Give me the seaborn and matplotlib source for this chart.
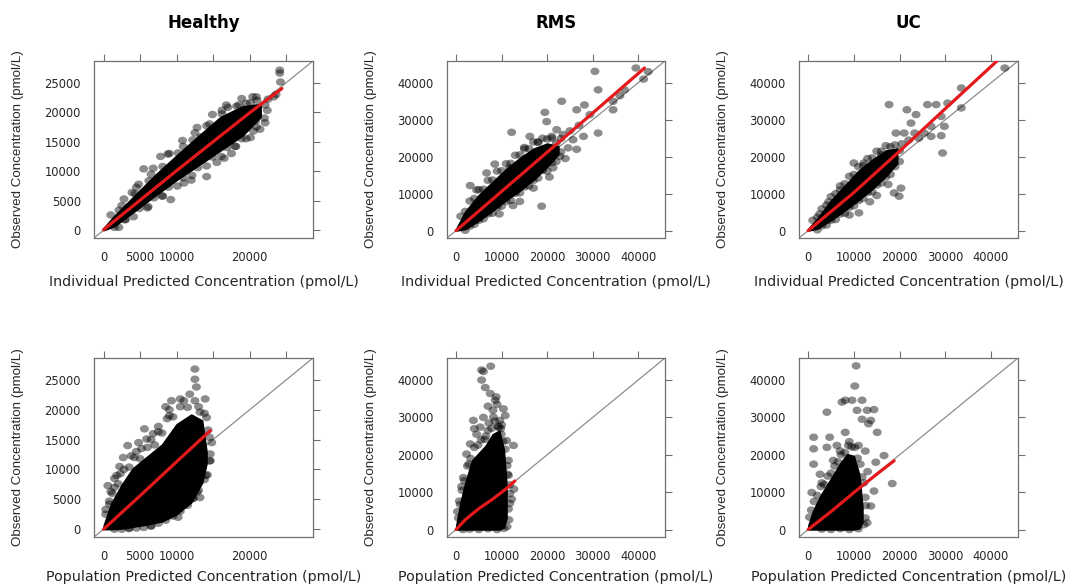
import numpy as np
import pandas as pd
import matplotlib
matplotlib.use("Agg")
import matplotlib.pyplot as plt
from matplotlib.path import Path
import seaborn as sns

# ---------------- data (values in thousands of pmol/L) ----------------
groups = ["Healthy", "RMS", "UC"]
x_labels = ["Individual Predicted Concentration (pmol/L)",
            "Population Predicted Concentration (pmol/L)"]
y_label = "Observed Concentration (pmol/L)"

healthy_ticks = [0, 5000, 10000, 15000, 20000, 25000]
healthy_xtick_labels = ["0", "5000", "10000", "", "20000", ""]
healthy_ytick_labels = ["0", "5000", "10000", "15000", "20000", "25000"]
wide_ticks = [0, 10000, 20000, 30000, 40000]
wide_tick_labels = ["0", "10000", "20000", "30000", "40000"]

# dense (solid black) part of each cloud: x, lower y, upper y
core_h_ipred_x = [0, 1.5, 4, 7, 10, 13, 16, 19, 21.5]
core_h_ipred_lo = [0, 0.7, 3.0, 5.8, 8.5, 11.0, 13.5, 16.0, 19.2]
core_h_ipred_hi = [0.4, 2.5, 5.6, 9.3, 12.7, 16.0, 19.2, 21.0, 21.4]

core_r_ipred_x = [0, 2, 5, 8, 11, 14, 17, 20, 22.5]
core_r_ipred_lo = [0, 0.4, 2.7, 5.3, 8.2, 10.8, 13.7, 17.2, 20.7]
core_r_ipred_hi = [0.5, 5.2, 9.7, 13.2, 16.7, 19.7, 22.2, 23.6, 22.8]

core_u_ipred_x = [0, 2, 5, 8, 11, 14, 17, 19.5]
core_u_ipred_lo = [0, 0.5, 2.8, 5.4, 8.2, 11.2, 14.7, 18.2]
core_u_ipred_hi = [0.5, 3.3, 8.2, 12.2, 16.2, 19.2, 21.7, 22.2]

core_h_pred_x = [0, 1, 2.5, 4, 6, 8, 10, 12, 13.5, 14.1]
core_h_pred_lo = [0, 0, 0.1, 0.4, 0.8, 1.3, 2.5, 4.5, 7.8, 11.0]
core_h_pred_hi = [0.6, 4.2, 7.5, 10.2, 12.2, 14.2, 17.6, 19.2, 18.2, 13.0]

core_r_pred_x = [0, 1, 2, 3.5, 5, 6.5, 8, 9.5, 10.5, 11.1]
core_r_pred_lo = [0, 0, 0, 0, 0, 0, 0, 0, 0.5, 3.0]
core_r_pred_hi = [1, 7.5, 12.5, 18.5, 20.5, 22.5, 25.5, 26.5, 21.5, 12]

core_u_pred_x = [0, 1, 2.5, 4, 5.5, 7, 8.5, 10, 11.2, 11.9]
core_u_pred_lo = [0, 0, 0, 0, 0, 0, 0, 0, 0.3, 2.0]
core_u_pred_hi = [1, 4.8, 8.7, 11.7, 14.7, 17.7, 20.2, 19.7, 14.7, 6]

# individual outlying observations
h_ipred_x = [24.1, 24.1, 24.2, 23.3, 23.6, 22.5, 20.4, 21.0, 21.0, 21.4, 20.8, 19.5, 18.5, 16.2,
             17.0, 13.3, 14.1, 10.9, 7.8, 5.5, 3.9, 9.2, 12.0, 15.5, 18.0, 19.5, 20.5, 22.0,
             12.5, 9.0, 6.5, 4.5, 2.5, 1.5, 3.0, 6.0, 8.0, 11.0, 14.5, 17.5, 16.5]
h_ipred_y = [27.1, 26.6, 25.1, 22.6, 23.0, 22.2, 22.6, 22.0, 19.5, 17.1, 18.5, 21.5, 21.2, 20.3,
             20.8, 15.8, 9.1, 14.2, 12.5, 10.4, 6.4, 5.2, 8.5, 11.5, 14.2, 15.5, 16.8, 19.0,
             16.5, 13.0, 9.5, 7.3, 4.2, 0.5, 1.8, 3.8, 5.8, 8.0, 18.0, 13.0, 12.2]
# observations along the fuzzy edge of the dense cloud
h_ipred_edge_x = [1.0, 2.1, 2.8, 4.3, 4.8, 6.2, 6.8, 8.1, 8.8, 10.2, 10.8, 12.2, 12.8, 14.1, 14.9,
                  16.2, 16.8, 18.2, 18.9, 20.1, 20.9, 22.1,
                  2.1, 2.9, 4.1, 4.9, 6.1, 6.9, 8.1, 8.9, 10.1, 10.9, 12.1, 12.9, 14.1, 14.9,
                  16.1, 16.9, 18.1, 18.9, 20.1, 20.9, 22.1, 22.4]
h_ipred_edge_y = [2.6, 3.4, 5.3, 6.2, 7.8, 8.4, 10.5, 10.8, 12.9, 13.1, 15.2, 15.3, 17.4, 17.7,
                  19.6, 19.7, 21.2, 21.0, 22.3, 21.6, 22.6, 21.2,
                  0.5, 1.8, 2.3, 3.7, 4.0, 5.5, 5.8, 7.3, 7.5, 8.9, 9.3, 10.6, 10.9, 12.4, 12.5,
                  14.0, 14.2, 15.5, 15.7, 17.5, 18.2, 20.3]

r_ipred_x = [30.5, 39.5, 31.2, 23.2, 26.5, 29.4, 28.2, 19.5, 34.5, 34.5, 31.2, 12.2, 16.2, 3.1,
             6.7, 18.8, 17.0, 11.8, 21.3, 24.6, 22.8, 25.7, 19.9, 22.1, 14.0, 5.3, 27.0, 25.0,
             23.5, 21.0, 18.0, 15.0, 8.5, 4.5, 9.5, 12.5, 20.5, 24.0, 26.5, 28.0, 36.0, 37.0,
             42.2, 41.2]
r_ipred_y = [43.1, 44.0, 38.1, 35.0, 32.7, 31.4, 34.0, 32.0, 35.0, 32.7, 26.4, 26.6, 25.5, 12.2,
             15.6, 6.6, 11.5, 17.0, 17.0, 22.4, 20.1, 24.6, 29.5, 27.3, 7.9, 7.5, 28.5, 27.0,
             26.0, 25.0, 24.0, 22.5, 18.0, 11.0, 4.5, 6.8, 14.5, 19.5, 22.0, 25.5, 36.5, 38.1,
             43.0, 41.0]
r_ipred_edge_x = [1, 2, 3, 4, 5, 6, 7, 8, 9, 10, 11, 12, 13, 14, 15, 16, 17, 18, 19, 20, 21, 22, 23,
                  2, 3, 4, 5, 6, 7, 8, 9, 10, 11, 12, 13, 14, 15, 16, 17, 18, 19, 20, 21, 22, 23]
r_ipred_edge_y = [3.9, 5.2, 8.0, 8.7, 11.1, 11.2, 13.6, 13.7, 16.1, 16.2, 18.1, 18.2, 20.4, 20.5,
                  22.1, 22.2, 24.0, 23.9, 25.0, 24.8, 25.5, 23.7, 24.9,
                  0.1, 1.2, 1.7, 2.8, 3.2, 4.5, 4.7, 6.3, 6.6, 7.9, 8.2, 10.1, 10.2, 11.8, 12.1,
                  13.6, 14.2, 16.3, 16.1, 18.4, 18.7, 21.3]

u_ipred_x = [17.7, 21.6, 23.6, 26.1, 28.0, 30.5, 33.5, 33.5, 29.1, 29.8, 26.9, 26.9, 29.1, 29.4,
             25.4, 22.5, 21.0, 19.2, 23.3, 43.0, 18.8, 20.3, 19.9, 10.0, 12.2, 11.1, 18.1, 20.5,
             22.0, 24.2, 7.0, 4.5, 2.5, 9.0, 13.5, 16.0, 15.0, 17.5]
u_ipred_y = [34.1, 32.7, 31.4, 34.1, 34.1, 34.5, 38.6, 33.2, 30.9, 28.2, 28.2, 25.5, 25.7, 21.0,
             26.4, 29.1, 26.4, 26.4, 26.4, 44.0, 10.2, 11.5, 9.3, 18.3, 18.3, 4.8, 21.0, 23.5,
             24.5, 25.0, 11.0, 7.8, 4.5, 4.2, 7.8, 20.5, 9.5, 12.5]
u_ipred_edge_x = [1, 2, 3, 4, 5, 6, 7, 8, 9, 10, 11, 12, 13, 14, 15, 16, 17, 18, 19, 20,
                  2, 3, 4, 5, 6, 7, 8, 9, 10, 11, 12, 13, 14, 15, 16, 17, 18, 19, 20]
u_ipred_edge_y = [2.8, 3.6, 5.9, 6.9, 9.2, 10.0, 12.1, 12.7, 14.7, 15.2, 17.3, 17.6, 19.5, 19.7,
                  21.5, 21.5, 23.0, 22.7, 23.2, 21.7,
                  0.2, 1.3, 1.5, 2.8, 3.0, 4.5, 4.7, 6.3, 6.7, 8.1, 8.7, 10.3, 10.5, 12.3, 12.9,
                  14.5, 15.2, 17.3, 18.7]

h_pred_x = [0.8, 0.6, 2.7, 3.3, 5.9, 5.6, 9.3, 12.5, 12.5, 12.7, 13.9, 14.1, 14.6, 13.2, 12.2,
            11.4, 7.7, 8.5, 10.5, 11.8, 7.5, 4.5, 1.8, 1.2, 0.3, 14.8, 14.0, 12.8, 10.2, 6.5,
            3.5, 13.0, 9.0, 6.8, 2.2, 1.0, 2.3, 3.8, 5.2, 6.5, 9.0, 11.0, 1.5, 4.8]
h_pred_y = [4.2, 7.3, 12.0, 14.0, 15.1, 16.8, 21.5, 26.8, 25.1, 23.8, 21.8, 18.7, 11.5, 5.3, 5.1,
            4.5, 1.9, 20.5, 21.8, 22.6, 17.2, 13.0, 9.0, 6.0, 2.5, 14.5, 9.0, 6.2, 2.0, 0.5,
            0.2, 20.5, 19.0, 16.0, 10.5, 6.3, 9.3, 12.3, 13.5, 15.0, 20.0, 21.5, 8.5, 14.5]
h_pred_edge_x = [0.3, 0.8, 1.5, 2, 2.8, 3.5, 4.2, 5, 6, 7, 7.5, 8, 8.7, 9.5, 10.5, 11.5, 12.5,
                 13.2, 13.8, 14.3, 14.5, 14.6, 14.5, 14.2, 13.8,
                 13.0, 12.3, 11.5, 10.5, 9.5, 8.5, 7.5, 6.5, 5.5, 4.5, 3.5, 2.5, 1.5]
h_pred_edge_y = [3.3, 4.7, 7.0, 7.6, 10.0, 10.4, 12.0, 11.8, 13.7, 14.1, 16.3, 16.1, 18.5, 18.8,
                 20.5, 20.4, 21.5, 19.6, 19.4, 16.6, 15.4, 12.6, 11.4, 9.1, 8.3,
                 6.5, 5.2, 4.0, 3.0, 2.2, 1.5, 1.0, 0.6, 0.3, 0.2, 0.1, 0.0, 0.0]

r_pred_x = [5.6, 6.0, 7.6, 5.6, 6.4, 7.5, 8.6, 8.1, 10.4, 3.8, 3.1, 2.3, 12.6, 12.7, 12.2, 1.6,
            0.9, 0.5, 9.6, 9.4, 5.3, 11.1, 11.3, 8.2, 9.0, 8.8, 7.0, 6.0, 4.5, 4.0, 7.2, 10.0,
            9.9, 11.5, 11.8, 11.5, 2.8, 1.3, 10.8, 6.5]
r_pred_y = [42.7, 42.3, 43.7, 40.0, 38.0, 36.4, 34.6, 31.9, 32.3, 29.2, 22.9, 20.2, 22.5, 10.8,
            8.1, 13.9, 6.7, 3.1, 29.2, 27.4, 27.4, 23.8, 14.8, 30.1, 33.5, 35.5, 33.0, 30.0,
            25.5, 27.0, 28.5, 28.0, 25.5, 18.5, 12.0, 5.5, 17.5, 10.5, 30.5, 25.0]
r_pred_edge_x = [0.3, 0.7, 1.2, 1.8, 2.5, 3.2, 4.0, 4.8, 5.5, 6.3, 7.0, 7.8, 8.5, 9.2, 9.8, 10.3,
                 10.8, 11.2, 11.5, 11.8, 11.8, 11.6, 11.2, 10.5, 9, 7, 5, 3, 1.5]
r_pred_edge_y = [4.8, 7.6, 11.5, 13.1, 17.0, 19.0, 22.0, 22.6, 24.0, 24.1, 26.5, 27.1, 29.0, 27.6,
                 27.0, 23.6, 21.5, 17.1, 14.5, 9.6, 7.0, 2.6, 0.8, 0.3, 0.0, 0.2, 0.0, 0.1, 0.0]

u_pred_x = [10.5, 10.2, 7.4, 8.1, 9.6, 10.7, 11.8, 4.1, 12.9, 14.4, 13.7, 11.8, 13.2, 15.1, 8.1,
            1.2, 4.7, 1.2, 4.1, 6.3, 1.2, 0.8, 16.6, 14.8, 18.4, 14.4, 13.7, 12.9, 2.6, 9.0,
            11.0, 12.5, 7.0, 5.5, 3.0, 13.0]
u_pred_y = [43.8, 38.4, 34.1, 34.6, 34.6, 31.9, 34.6, 31.4, 31.9, 32.1, 29.2, 29.5, 28.3, 26.0,
            26.0, 24.7, 24.7, 21.6, 22.0, 22.5, 17.5, 9.9, 19.8, 18.0, 12.3, 10.3, 6.3, 1.8,
            14.8, 23.5, 22.5, 21.0, 21.0, 18.5, 12.5, 15.5]
u_pred_edge_x = [0.3, 0.7, 1.3, 2.0, 2.8, 3.5, 4.3, 5.0, 5.8, 6.5, 7.2, 8.0, 8.8, 9.5, 10.2, 10.8,
                 11.4, 11.8, 12.2, 12.5, 12.6, 12.5, 12.2, 11, 9, 7, 5, 3]
u_pred_edge_y = [3.3, 5.2, 7.5, 9.1, 11.5, 12.1, 14.3, 15.1, 17.0, 18.1, 20.0, 20.6, 22.5, 22.1,
                 22.0, 19.1, 17.5, 14.1, 12.5, 8.6, 6.4, 3.1, 1.3, 0.2, 0.0, 0.2, 0.0, 0.1]

# loess smooths (red)
loess_h_ipred_x = [0, 5, 10, 15, 20, 24.4]
loess_h_ipred_y = [0.1, 5.1, 10.1, 15.0, 19.9, 24.0]
loess_r_ipred_x = [0, 10, 20, 30, 41.4]
loess_r_ipred_y = [0, 10.6, 21.2, 31.8, 44.0]
loess_u_ipred_x = [0, 10, 20, 30, 41.3]
loess_u_ipred_y = [0, 10.3, 21.5, 33.0, 45.9]
loess_h_pred_x = [0, 5, 10, 14.6]
loess_h_pred_y = [0, 5.6, 11.3, 16.5]
loess_r_pred_x = [0, 2, 5, 8, 11, 12.9]
loess_r_pred_y = [0, 2.6, 5.6, 8.1, 10.9, 13.0]
loess_u_pred_x = [0, 5, 10, 15, 18.8]
loess_u_pred_y = [0, 4.8, 9.9, 14.8, 18.4]

# ---------------- build panel table ----------------
panels = [
    dict(row=0, col=0, core=(core_h_ipred_x, core_h_ipred_lo, core_h_ipred_hi),
         pts=(h_ipred_x + h_ipred_edge_x, h_ipred_y + h_ipred_edge_y),
         smooth=(loess_h_ipred_x, loess_h_ipred_y)),
    dict(row=0, col=1, core=(core_r_ipred_x, core_r_ipred_lo, core_r_ipred_hi),
         pts=(r_ipred_x + r_ipred_edge_x, r_ipred_y + r_ipred_edge_y),
         smooth=(loess_r_ipred_x, loess_r_ipred_y)),
    dict(row=0, col=2, core=(core_u_ipred_x, core_u_ipred_lo, core_u_ipred_hi),
         pts=(u_ipred_x + u_ipred_edge_x, u_ipred_y + u_ipred_edge_y),
         smooth=(loess_u_ipred_x, loess_u_ipred_y)),
    dict(row=1, col=0, core=(core_h_pred_x, core_h_pred_lo, core_h_pred_hi),
         pts=(h_pred_x + h_pred_edge_x, h_pred_y + h_pred_edge_y),
         smooth=(loess_h_pred_x, loess_h_pred_y)),
    dict(row=1, col=1, core=(core_r_pred_x, core_r_pred_lo, core_r_pred_hi),
         pts=(r_pred_x + r_pred_edge_x, r_pred_y + r_pred_edge_y),
         smooth=(loess_r_pred_x, loess_r_pred_y)),
    dict(row=1, col=2, core=(core_u_pred_x, core_u_pred_lo, core_u_pred_hi),
         pts=(u_pred_x + u_pred_edge_x, u_pred_y + u_pred_edge_y),
         smooth=(loess_u_pred_x, loess_u_pred_y)),
]

# ---------------- style ----------------
sns.set_style("white")
plt.rcParams['font.family'] = ['DejaVu Sans']

W, H = 1074, 587
fig = plt.figure(figsize=(W / 100, H / 100), dpi=100)
fig.patch.set_facecolor("white")

col_px = [(94, 313), (447, 665), (799, 1018)]
row_px = [(61, 238), (358, 537)]
lims = [(-1300, 28650), (-2000, 45900), (-2000, 45900)]

EDGE = "#707070"
TXT = "#262626"

theta = np.linspace(0, 2 * np.pi, 40)
ell = Path(np.column_stack([1.2 * np.cos(theta), np.sin(theta)]), closed=True)

for p in panels:
    r, c = p["row"], p["col"]
    x0, x1 = col_px[c]
    y0, y1 = row_px[r]
    ax = fig.add_axes([x0 / W, 1 - y1 / H, (x1 - x0) / W, (y1 - y0) / H])
    lo_lim, hi_lim = lims[c]

    ax.axline((0, 0), slope=1, color="#8c8c8c", lw=0.9, zorder=1)

    cx, clo, chi = (np.asarray(v) * 1000 for v in p["core"])
    ax.fill_between(cx, clo, chi, color="black", lw=1.0, edgecolor="black", zorder=2)

    df = pd.DataFrame({"x": np.asarray(p["pts"][0]) * 1000,
                       "y": np.asarray(p["pts"][1]) * 1000})
    sns.scatterplot(data=df, x="x", y="y", ax=ax, color="black", alpha=0.45,
                    s=42, marker=ell, edgecolor="none", linewidth=0, zorder=3)

    sm = pd.DataFrame({"x": np.asarray(p["smooth"][0]) * 1000,
                       "y": np.asarray(p["smooth"][1]) * 1000})
    sns.lineplot(data=sm, x="x", y="y", ax=ax, color="#e3191c", lw=2.3,
                 sort=False, estimator=None, zorder=4)

    ax.set_xlim(lo_lim, hi_lim)
    ax.set_ylim(lo_lim, hi_lim)
    if c == 0:
        ax.set_xticks(healthy_ticks)
        ax.set_xticklabels(healthy_xtick_labels)
        ax.set_yticks(healthy_ticks)
        ax.set_yticklabels(healthy_ytick_labels)
    else:
        ax.set_xticks(wide_ticks)
        ax.set_xticklabels(wide_tick_labels)
        ax.set_yticks(wide_ticks)
        ax.set_yticklabels(wide_tick_labels)
    ax.set_xlabel("")
    ax.set_ylabel("")
    ax.tick_params(direction="out", length=5, width=0.8, color=EDGE,
                   top=True, right=True, labeltop=False, labelright=False,
                   labelsize=8.3, labelcolor=TXT, pad=4.5)
    for s in ax.spines.values():
        s.set_visible(True)
        s.set_color(EDGE)
        s.set_linewidth(0.9)

    xc = (x0 + x1) / 2 / W
    lab_y = (282 if r == 0 else 577)
    fig.text(xc, 1 - lab_y / H, x_labels[r], ha="center", va="center",
             fontsize=10.3, color=TXT)
    fig.text((x0 - 76) / W, 1 - ((y0 + y1) / 2) / H, y_label, rotation=90,
             ha="center", va="center", fontsize=9.6, color=TXT,
             family=["Liberation Sans", "DejaVu Sans"])
    if r == 0:
        fig.text(xc, 1 - 23 / H, groups[c], ha="center", va="center",
                 fontsize=12, fontweight="bold", color="black")

fig.savefig("out.png", dpi=100, facecolor="white")
